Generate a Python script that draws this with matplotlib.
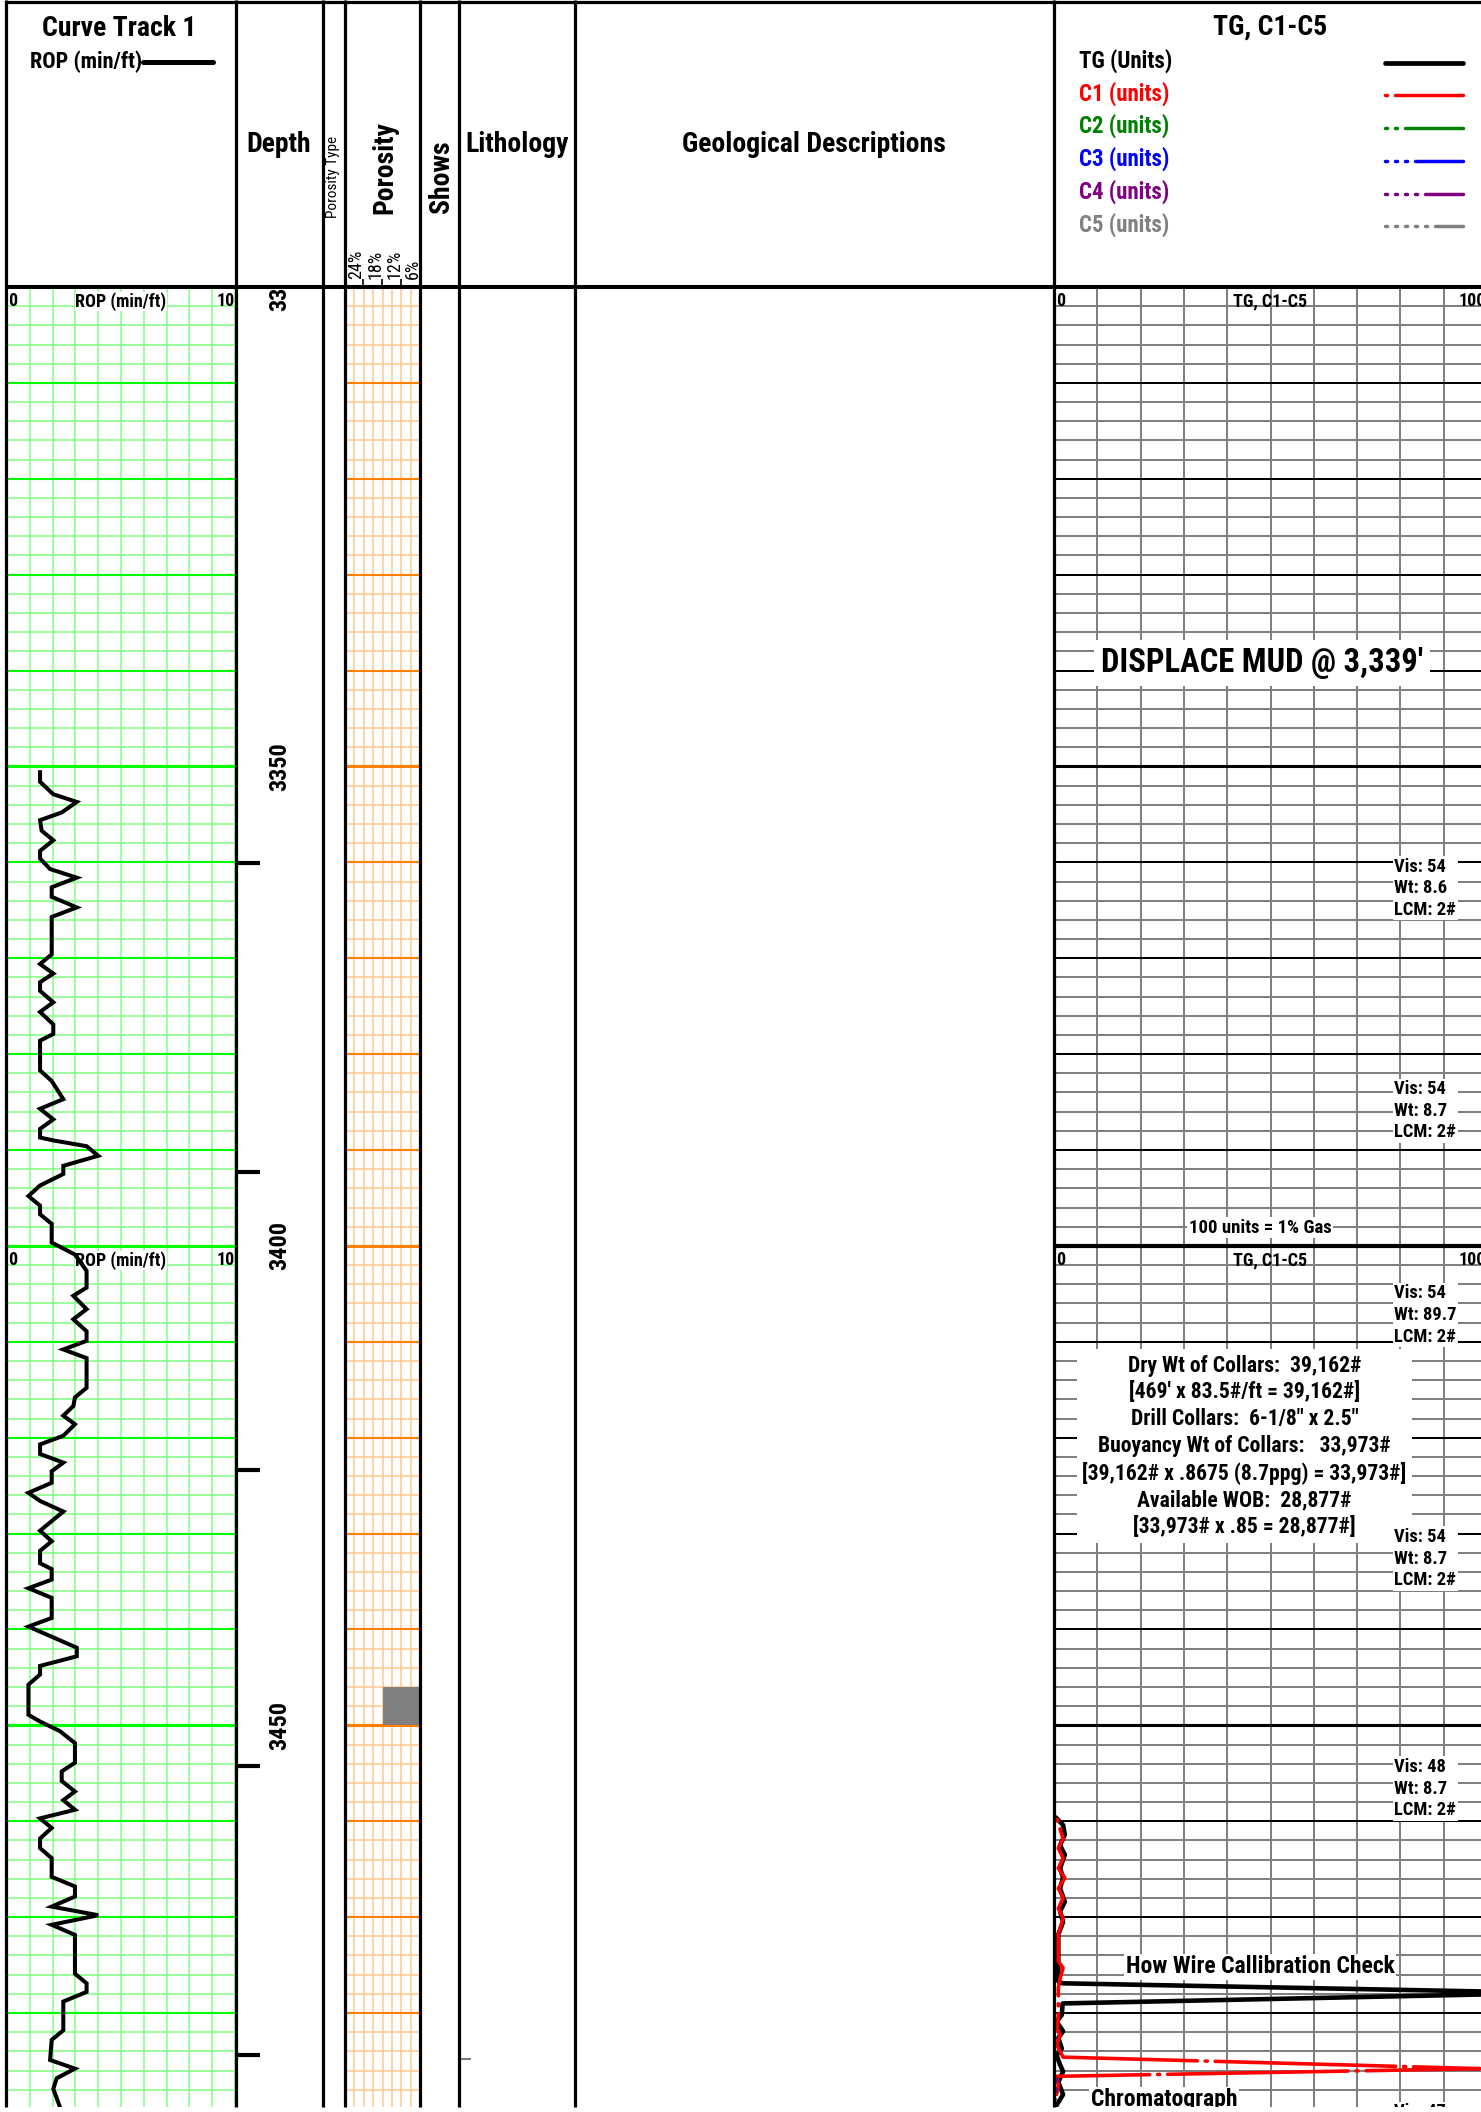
"""Mud log strip: ROP track, porosity, gas (TG, C1-C5) track."""

import matplotlib

matplotlib.use("Agg")

import matplotlib.pyplot as plt
from matplotlib import font_manager
from matplotlib.font_manager import FontProperties
from matplotlib.textpath import TextPath
from matplotlib.ticker import MultipleLocator

FIG_W_PX = 1481
FIG_H_PX = 2112
DPI = 100
TOP_DEPTH = 3300.0
BOTTOM_DEPTH = 3489.8
HEADER_BOTTOM_PX = 287
PLOT_BOTTOM_PX = 2107

GREEN_MINOR = "#80ff80"
GREEN_MAJOR = "#00ff00"
ORANGE_MINOR = "#ffc890"
ORANGE_MAJOR = "#ff8000"
GAS_GRID = "#808080"

# ---------------------------------------------------------------- data
# ROP (min/ft)
rop_depth = [3350.6, 3351.6, 3352.9, 3353.7, 3354.8, 3355.6, 3356.7, 3357.7, 3358.8, 3359.6,
             3360.7, 3361.6, 3362.6, 3363.6, 3364.7, 3365.7, 3369.6, 3370.6, 3371.6, 3372.5,
             3373.4, 3374.6, 3375.6, 3376.9, 3377.9, 3378.6, 3381.7, 3382.8, 3384.7, 3385.7,
             3386.8, 3387.8, 3388.7, 3389.0, 3389.6, 3390.6, 3391.65, 3392.5, 3393.7, 3394.8,
             3395.8, 3396.7, 3397.7, 3399.65, 3400.9, 3402.6, 3404.35, 3405.2, 3406.6, 3407.65,
             3408.9, 3409.9, 3410.8, 3411.7, 3414.8, 3415.8, 3416.7, 3417.7, 3418.6, 3419.8,
             3420.7, 3421.7, 3422.6, 3423.5, 3424.7, 3425.75, 3426.6, 3427.7, 3429.7, 3430.8,
             3431.8, 3433.1, 3433.7, 3434.8, 3435.7, 3436.7, 3438.8, 3439.7, 3441.9, 3442.8,
             3443.8, 3444.7, 3445.75, 3448.9, 3449.6, 3450.6, 3451.85, 3453.9, 3454.8, 3455.8,
             3456.9, 3457.8, 3458.8, 3459.7, 3460.7, 3461.8, 3462.8, 3463.85, 3465.8, 3466.8,
             3467.85, 3468.9, 3469.8, 3470.8, 3471.85, 3475.9, 3476.9, 3477.8, 3478.8, 3481.8,
             3482.8, 3484.9, 3485.8, 3486.8, 3487.9, 3489.8]
rop_value = [1.45, 1.45, 2.03, 3.06, 2.40, 1.45, 1.52, 2.03, 1.45, 1.45,
             1.89, 3.06, 1.96, 1.96, 3.06, 1.96, 1.96, 1.45, 2.03, 1.45,
             1.45, 2.03, 1.45, 2.03, 2.03, 1.45, 1.45, 1.96, 2.47, 1.45,
             2.03, 1.45, 1.45, 2.03, 3.49, 4.00, 2.47, 2.47, 1.45, 0.94,
             1.45, 1.45, 1.96, 1.96, 2.98, 3.49, 3.49, 2.91, 3.49, 2.91,
             3.49, 3.49, 2.47, 3.49, 3.49, 2.98, 2.91, 2.47, 2.98, 2.47,
             1.45, 1.45, 2.47, 1.96, 1.96, 0.94, 1.45, 2.47, 1.45, 1.96,
             1.45, 1.45, 1.96, 1.96, 0.94, 1.96, 1.96, 0.94, 3.06, 3.06,
             1.45, 1.45, 0.94, 0.94, 1.45, 2.32, 2.98, 2.98, 2.40, 2.40,
             2.98, 2.47, 2.98, 1.45, 1.96, 1.45, 1.45, 1.96, 1.96, 2.98,
             2.98, 1.96, 4.00, 1.96, 2.98, 2.98, 3.49, 3.49, 2.47, 2.47,
             1.96, 1.89, 2.98, 2.18, 2.03, 2.32]

# Total gas and chromatograph (units)
tg_depth = [3459.7, 3460.4, 3461.4, 3462.5, 3463.5, 3464.9, 3465.9, 3467.0, 3468.4, 3469.4,
            3470.5, 3471.8, 3475.3, 3476.7, 3476.9, 3477.9, 3479.0, 3480.2, 3480.9, 3481.9,
            3482.6, 3483.7, 3484.4, 3485.4, 3486.1, 3487.2, 3488.5, 3489.6]
tg_value = [0.6, 2.1, 2.5, 1.4, 2.5, 1.4, 2.1, 1.4, 2.5, 1.4,
            2.1, 1.0, 1.0, 1.0, 2.0, 116.0, 2.0, 1.8, 0.6, 2.1,
            1.0, 1.8, 0.6, 1.4, 2.1, 1.0, 2.1, 0.6]
c1_depth = [3459.8, 3461.8, 3462.8, 3463.85, 3464.9, 3465.9, 3467.0, 3468.0, 3469.1, 3470.1,
            3471.2, 3471.8, 3474.6, 3475.3, 3476.4, 3477.4, 3480.2, 3481.6, 3482.3, 3483.3,
            3484.6, 3485.8, 3486.6, 3487.5, 3488.5]
c1_value = [0.7, 2.1, 1.0, 2.1, 1.0, 2.5, 1.0, 2.1, 1.0, 2.1,
            1.4, 1.0, 1.0, 2.1, 1.4, 1.0, 1.0, 0.7, 1.4, 0.6,
            2.1, 98.4, 0.6, 1.0, 0.6]
c4_depth = [3486.9, 3489.0]
c4_value = [0.8, 0.3]

# porosity (%)
poro_depth = [3446.0, 3450.0]
poro_value = [18.0, 18.0]

# depth markers and labels (ft)
marker_depth = [3360.1, 3392.3, 3423.4, 3454.2, 3484.4]
litho_mark_depth = [3484.8]
depth_labels = [3300, 3350, 3400, 3450]

# mud checks
mud_depth = [3362.7, 3385.9, 3407.2, 3432.6, 3456.6, 3492.6]
mud_vis = ["54", "54", "54", "54", "48", "47"]
mud_wt = ["8.6", "8.7", "89.7", "8.7", "8.7", "8.7"]
mud_lcm = ["2#", "2#", "2#", "2#", "2#", "2#"]

collar_notes = [
    "Dry Wt of Collars:  39,162#",
    "[469' x 83.5#/ft = 39,162#]",
    "Drill Collars:  6-1/8\" x 2.5\"",
    "Buoyancy Wt of Collars:   33,973#",
    "[39,162# x .8675 (8.7ppg) = 33,973#]",
    "Available WOB:  28,877#",
    "[33,973# x .85 = 28,877#]",
]

gas_names = ["TG (Units)", "C1 (units)", "C2 (units)", "C3 (units)", "C4 (units)", "C5 (units)"]
gas_colors = ["black", "red", "#008000", "blue", "#800080", "#808080"]


# ---------------------------------------------------------------- fonts
def pick_font():
    entries = font_manager.fontManager.ttflist
    names = {f.name for f in entries}
    for name in ("Liberation Sans Narrow", "Arial Narrow", "Roboto Condensed",
                 "Open Sans Condensed", "Noto Sans Condensed", "DejaVu Sans Condensed"):
        if name in names:
            return name, "normal"
    for fam in ("Liberation Sans", "Noto Sans", "Roboto", "Open Sans", "DejaVu Sans"):
        if any(f.name == fam and f.stretch == "condensed" for f in entries):
            return fam, "condensed"
    return "Liberation Sans", "normal"


FONT_NAME, FONT_STRETCH = pick_font()
plt.rcParams["font.family"] = [FONT_NAME, "DejaVu Sans"]
plt.rcParams["font.stretch"] = FONT_STRETCH
plt.rcParams["lines.scale_dashes"] = False

# scale sizes so that a header title has the reference width (262 px at 20 pt)
_probe = FontProperties(family=FONT_NAME, weight="bold", stretch=FONT_STRETCH, size=20)
_probe_w = TextPath((0, 0), "Geological Descriptions", size=20, prop=_probe).get_extents().width
FONT_SCALE = min(1.0, 1.04 * 262 / (_probe_w * DPI / 72))


def fs(size):
    return size * FONT_SCALE


def line_spacing(size, target_px):
    return target_px / (0.9 * fs(size) * DPI / 72)


def gas_dashes(n_dots):
    return (0, (1.5, 5.7) * n_dots + (130.0, 5.7))


def track_axes(fig, x0, x1):
    ax = fig.add_axes([
        x0 / FIG_W_PX,
        1 - PLOT_BOTTOM_PX / FIG_H_PX,
        (x1 - x0) / FIG_W_PX,
        (PLOT_BOTTOM_PX - HEADER_BOTTOM_PX) / FIG_H_PX,
    ])
    ax.set_ylim(BOTTOM_DEPTH, TOP_DEPTH)
    ax.tick_params(which="both", length=0, labelleft=False, labelbottom=False)
    for spine in ax.spines.values():
        spine.set_visible(False)
    return ax


def depth_grid(ax, x_step, x_color, minor_color, major_color, lw_minor, lw_major):
    ax.xaxis.set_major_locator(MultipleLocator(x_step))
    ax.yaxis.set_major_locator(MultipleLocator(10))
    ax.yaxis.set_minor_locator(MultipleLocator(2))
    ax.grid(axis="x", which="major", color=x_color, lw=lw_minor)
    ax.grid(axis="y", which="minor", color=minor_color, lw=lw_minor)
    ax.grid(axis="y", which="major", color=major_color, lw=lw_major)
    ax.set_axisbelow(True)


white_box = dict(facecolor="white", edgecolor="none", pad=1.0)

fig = plt.figure(figsize=(FIG_W_PX / DPI, FIG_H_PX / DPI), dpi=DPI)

# ---------------------------------------------------------------- ROP track
ax_rop = track_axes(fig, 7, 235)
ax_rop.set_xlim(0, 10)
depth_grid(ax_rop, 1, GREEN_MINOR, GREEN_MINOR, GREEN_MAJOR, 1.1, 1.5)
for d in (3350, 3400, 3450):
    ax_rop.axhline(d, color=GREEN_MAJOR, lw=2.2, zorder=1)
for d in (3301.5, 3401.5):
    ax_rop.text(0.05, d, "0", ha="left", va="center", fontsize=fs(13), fontweight="bold")
    ax_rop.text(5, d, "ROP (min/ft)", ha="center", va="center", fontsize=fs(13),
                fontweight="bold", bbox=dict(facecolor="white", edgecolor="none", pad=0.3))
    ax_rop.text(9.97, d, "10", ha="right", va="center", fontsize=fs(13), fontweight="bold")
ax_rop.plot(rop_value, rop_depth, color="black", lw=2.9, solid_joinstyle="miter", zorder=4)

# ---------------------------------------------------------------- depth track
ax_depth = track_axes(fig, 236, 323)
ax_depth.set_xlim(0, 1)
ax_depth.hlines(marker_depth, 0, 24 / 87, color="black", lw=3.0)
for d in depth_labels:
    ax_depth.text(0.506, d, str(d), rotation=90, ha="center", va="center",
                  fontsize=fs(17.5), fontweight="bold", clip_on=True)

# ---------------------------------------------------------------- porosity track
ax_poro = track_axes(fig, 345, 420)
ax_poro.set_xlim(30, 6)
depth_grid(ax_poro, 3, ORANGE_MINOR, ORANGE_MINOR, ORANGE_MAJOR, 1.1, 1.5)
for d in (3350, 3400, 3450):
    ax_poro.axhline(d, color=ORANGE_MAJOR, lw=2.2, zorder=1)
ax_poro.fill_betweenx(poro_depth, poro_value, 0, color="#808080", lw=0, zorder=3)

# ---------------------------------------------------------------- lithology track
ax_lith = track_axes(fig, 459, 575)
ax_lith.set_xlim(0, 1)
ax_lith.hlines(litho_mark_depth, 0.02, 0.1, color="#606060", lw=1.2)

# ---------------------------------------------------------------- gas track
ax_gas = track_axes(fig, 1054, 1487)
ax_gas.set_xlim(0, 100)
depth_grid(ax_gas, 10, GAS_GRID, GAS_GRID, "black", 1.45, 1.45)
for d in (3350, 3450):
    ax_gas.axhline(d, color="black", lw=2.2, zorder=1)
ax_gas.axhline(3400, color="black", lw=3.0, zorder=1)

for d in (3301.5, 3401.5):
    ax_gas.text(0.4, d, "0", ha="left", va="center", fontsize=fs(13), fontweight="bold")
    ax_gas.text(50, d, "TG, C1-C5", ha="center", va="center", fontsize=fs(13),
                fontweight="bold")
    ax_gas.text(99.8, d, "100", ha="right", va="center", fontsize=fs(13), fontweight="bold")
ax_gas.text(47.6, 3398.1, "100 units = 1% Gas", ha="center", va="center",
            fontsize=fs(13.5), fontweight="bold", bbox=white_box)

ax_gas.plot(tg_value, tg_depth, color="black", lw=3.3, zorder=4)
ax_gas.plot(c1_value, c1_depth, color="red", lw=2.6, linestyle=gas_dashes(1),
            dash_capstyle="round", zorder=5)
ax_gas.plot(c4_value, c4_depth, color="#800080", lw=2.2, linestyle=gas_dashes(4),
            dash_capstyle="round", zorder=5)

ax_gas.text(48.0, 3339.2, "DISPLACE MUD @ 3,339'", ha="center", va="center",
            fontsize=fs(23.5), fontweight="bold",
            bbox=dict(facecolor="white", edgecolor="none", pad=5))
ax_gas.text(44.0, 3420.9, "\n".join(collar_notes), ha="center", va="center",
            fontsize=fs(15.6), fontweight="bold", linespacing=line_spacing(15.6, 24.8),
            bbox=dict(facecolor="white", edgecolor="none", pad=4))
for d, vis, wt, lcm in zip(mud_depth, mud_vis, mud_wt, mud_lcm):
    ax_gas.text(78.6, d, f"Vis: {vis}\nWt: {wt}\nLCM: {lcm}", ha="left", va="center",
                fontsize=fs(13.3), fontweight="bold", linespacing=line_spacing(13.3, 21),
                bbox=white_box, clip_on=True, zorder=6)
ax_gas.text(47.6, 3475.2, "How Wire Callibration Check", ha="center", va="center",
            fontsize=fs(17), fontweight="bold", bbox=white_box, zorder=6)
ax_gas.text(25.4, 3489.7, "Chromatograph", ha="center", va="baseline",
            fontsize=fs(17), fontweight="bold", bbox=white_box, clip_on=True, zorder=6)

# ---------------------------------------------------------------- header and frame
ov = fig.add_axes([0, 0, 1, 1], zorder=10)
ov.set_xlim(0, FIG_W_PX)
ov.set_ylim(FIG_H_PX, 0)
ov.axis("off")

column_edges = [6, 236, 323, 345, 420, 459, 575, 1054]
ov.vlines(column_edges, 0, PLOT_BOTTOM_PX, color="black", lw=2.3)
ov.hlines(1.5, 6, FIG_W_PX, color="black", lw=2.3)
ov.hlines(HEADER_BOTTOM_PX, 6, FIG_W_PX, color="black", lw=2.9)

title_kw = dict(fontsize=fs(20), fontweight="bold", ha="center", va="center")
ov.text(119, 28, "Curve Track 1", **title_kw)
ov.text(279, 145, "Depth", **title_kw)
ov.text(385, 168, "Porosity", rotation=90, **title_kw)
ov.text(442, 177, "Shows", rotation=90, **title_kw)
ov.text(517, 145, "Lithology", **title_kw)
ov.text(814, 144, "Geological Descriptions", **title_kw)
ov.text(1270, 27, "TG, C1-C5", **title_kw)
ov.text(333, 177, "Porosity Type", rotation=90, ha="center", va="center", fontsize=fs(11))

ov.text(142, 62, "ROP (min/ft)", ha="right", va="center", fontsize=fs(16), fontweight="bold")
ov.plot([143, 213], [62, 62], color="black", lw=3.6, solid_capstyle="round")

for x, lab in zip([356.5, 375.5, 394.5, 413], ["24%", "18%", "12%", "6%"]):
    ov.text(x, 279, lab, rotation=90, ha="center", va="bottom", fontsize=fs(13))
ov.vlines([363, 382, 401], 279, HEADER_BOTTOM_PX, color="black", lw=1.2)

legend_y = [61, 93.5, 126, 159, 192, 224.5]
for i, (name, color, y) in enumerate(zip(gas_names, gas_colors, legend_y)):
    ov.text(1079, y, name, ha="left", va="center", color=color,
            fontsize=fs(16.5), fontweight="bold")
    if i == 0:
        ov.plot([1385, 1463], [y + 1.5, y + 1.5], color=color, lw=3.4, solid_capstyle="round")
    else:
        ov.plot([1385, 1463], [y + 1.5, y + 1.5], color=color, lw=2.5,
                linestyle=gas_dashes(i), dash_capstyle="round")

fig.savefig("out.png", dpi=DPI)
plt.close(fig)
